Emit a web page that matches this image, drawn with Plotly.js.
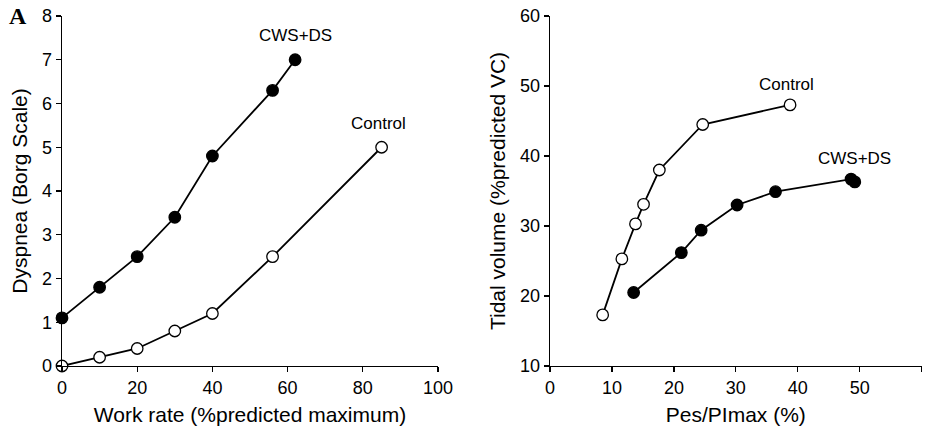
<!DOCTYPE html>
<html>
<head>
<meta charset="utf-8">
<script src="https://cdn.plot.ly/plotly-3.0.1.min.js"></script>
<style>html,body{margin:0;padding:0;background:#fff}#chart{width:931px;height:429px}</style>
</head>
<body>
<div id="chart"></div>
<script>
// Panel A (left): Dyspnea vs work rate
const workCWS = [0, 10, 20, 30, 40, 56, 62];
const dyspCWS = [1.1, 1.8, 2.5, 3.4, 4.8, 6.3, 7.0];
const workCtrl = [0, 10, 20, 30, 40, 56, 85];
const dyspCtrl = [0, 0.2, 0.4, 0.8, 1.2, 2.5, 5.0];

// Right panel: Tidal volume vs Pes/PImax
const pesCtrl = [8.5, 11.6, 13.8, 15.1, 17.65, 24.65, 38.75];
const vtCtrl = [17.3, 25.3, 30.3, 33.1, 38.0, 44.5, 47.3];
const pesCWS = [13.5, 21.2, 24.4, 30.2, 36.4, 48.6, 49.2];
const vtCWS = [20.5, 26.2, 29.4, 33.0, 34.9, 36.7, 36.3];

const leftX = [0, 20, 40, 60, 80, 100];
const leftY = [0, 1, 2, 3, 4, 5, 6, 7, 8];
const rightX = [0, 10, 20, 30, 40, 50, 60];
const rightY = [10, 20, 30, 40, 50, 60];

const font = 'Liberation Sans, Arial, sans-serif';
const lineStyle = {color: '#000', width: 1.8};
const filled = {symbol: 'circle', size: 11.5, color: '#000', line: {color: '#000', width: 1.3}};
const open = {symbol: 'circle', size: 11.5, color: '#fff', line: {color: '#000', width: 1.3}};

const traces = [
  {x: workCWS, y: dyspCWS, xaxis: 'x', yaxis: 'y', mode: 'lines+markers', line: lineStyle, marker: filled, cliponaxis: false},
  {x: workCtrl, y: dyspCtrl, xaxis: 'x', yaxis: 'y', mode: 'lines+markers', line: lineStyle, marker: open, cliponaxis: false},
  {x: pesCtrl, y: vtCtrl, xaxis: 'x2', yaxis: 'y2', mode: 'lines+markers', line: lineStyle, marker: open, cliponaxis: false},
  {x: pesCWS, y: vtCWS, xaxis: 'x2', yaxis: 'y2', mode: 'lines+markers', line: lineStyle, marker: filled, cliponaxis: false}
];

function ax(range, vals, domain, anchor, title, standoff) {
  return {
    domain: domain, range: range, anchor: anchor,
    tickmode: 'array', tickvals: vals, ticktext: vals.map(String),
    showgrid: false, zeroline: false, showline: true, linecolor: '#000', linewidth: 1.3,
    ticks: 'outside', ticklen: 5, tickwidth: 1.3, tickcolor: '#000',
    tickfont: {family: font, size: 18, color: '#000'},
    title: {text: title, standoff: standoff, font: {family: font, size: 21, color: '#000'}},
    automargin: false,
    fixedrange: true
  };
}

const layout = {
  width: 931, height: 429,
  margin: {l: 0, r: 0, t: 16, b: 63},
  paper_bgcolor: '#fff', plot_bgcolor: '#fff',
  showlegend: false,
  xaxis: ax([0, 100], leftX, [62/931, 438/931], 'y', 'Work rate (%predicted maximum)', 10),
  yaxis: ax([0, 8], leftY, [0, 1], 'x', 'Dyspnea (Borg Scale)', 8),
  xaxis2: ax([0, 60], rightX, [550/931, 921.7/931], 'y2', 'Pes/PImax (%)', 10),
  yaxis2: ax([10, 60], rightY, [0, 1], 'x2', 'Tidal volume (%predicted VC)', 8),
  annotations: [
    {xref: 'paper', yref: 'paper', x: 7/931, y: 1, yanchor: 'middle', xanchor: 'left', text: '<b>A</b>', showarrow: false, font: {family: 'Liberation Serif, Times New Roman, serif', size: 24, color: '#000'}},
    {xref: 'x', yref: 'y', x: 62, y: 7.55, text: 'CWS+DS', showarrow: false, xanchor: 'center', font: {family: font, size: 17, color: '#000'}},
    {xref: 'x', yref: 'y', x: 84.3, y: 5.55, text: 'Control', showarrow: false, xanchor: 'center', font: {family: font, size: 17, color: '#000'}},
    {xref: 'x2', yref: 'y2', x: 38.1, y: 50.2, text: 'Control', showarrow: false, xanchor: 'center', font: {family: font, size: 17, color: '#000'}},
    {xref: 'x2', yref: 'y2', x: 49.2, y: 39.6, text: 'CWS+DS', showarrow: false, xanchor: 'center', font: {family: font, size: 17, color: '#000'}}
  ]
};

Plotly.newPlot('chart', traces, layout, {staticPlot: true, displayModeBar: false});
</script>
</body>
</html>
